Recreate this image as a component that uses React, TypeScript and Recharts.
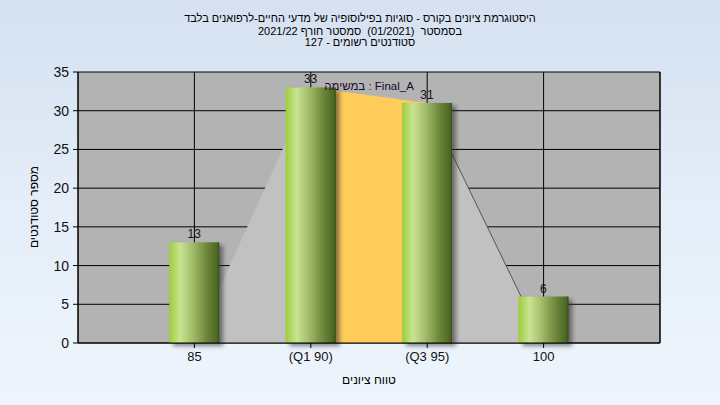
import React from "react";
import {
  ComposedChart,
  Bar,
  Area,
  XAxis,
  YAxis,
  CartesianGrid,
  LabelList,
  ReferenceDot,
} from "recharts";

// ---- data ----
const categories = ["85", "(Q1 90)", "(Q3 95)", "100"];
const positions = [1, 2, 3, 4];
const counts = [13, 33, 31, 6];
const envelope = [0, 33, 31, 0];
const quartileBand: (number | null)[] = [null, 33, 31, null];
const tailLine: (number | null)[] = [null, null, 31, 0];
const yTicks = [0, 5, 10, 15, 20, 25, 30, 35];
const xTicks = [1, 2, 3, 4];

const titleLines = [
  "היסטוגרמת ציונים בקורס - סוגיות בפילוסופיה של מדעי החיים-לרפואנים בלבד",
  "בסמסטר  (01/2021)  סמסטר חורף 2021/22",
  "סטודנטים רשומים - 127",
];
const xTitle = "טווח ציונים";
const yTitle = "מספר סטודנטים";
const annotationText = "במשימה : Final_A";
const annotationX = 2.5;
const annotationY = 33;

const data = categories.map((c, i) => ({
  x: positions[i],
  label: c,
  count: counts[i],
  env: envelope[i],
  band: quartileBand[i],
  tail: tailLine[i],
}));

const FONT = '"Liberation Sans", Arial, sans-serif';

const BarShape = (props: any) => {
  const { x, y, width, height, index } = props;
  if (width == null || height == null) return null;
  const gid = `barGrad${index}`;
  const fid = `barShadow${index}`;
  return (
    <g>
      <defs>
        <linearGradient id={gid} x1="0" y1="0" x2="1" y2="0">
          <stop offset="0%" stopColor="#9dcd3b" />
          <stop offset="22%" stopColor="#c8e492" />
          <stop offset="45%" stopColor="#a6bf6c" />
          <stop offset="75%" stopColor="#6c873a" />
          <stop offset="100%" stopColor="#45601c" />
        </linearGradient>
        <filter id={fid} x="-30%" y="-30%" width="160%" height="160%">
          <feGaussianBlur stdDeviation="2" />
        </filter>
      </defs>
      <rect
        x={x + 4}
        y={y + 3}
        width={width}
        height={height}
        fill="#2a2a2a"
        opacity={0.55}
        filter={`url(#${fid})`}
      />
      <rect x={x} y={y} width={width} height={height} fill={`url(#${gid})`} />
      <line
        x1={x + width - 0.5}
        y1={y}
        x2={x + width - 0.5}
        y2={y + height}
        stroke="#3a4f16"
        strokeWidth={1}
      />
    </g>
  );
};

export default function App() {
  return (
    <div
      style={{
        position: "absolute",
        left: 0,
        top: 0,
        width: 720,
        height: 405,
        background: "linear-gradient(to bottom, #d5e1f1 0%, #e4edf8 50%, #eef5fc 100%)",
        fontFamily: FONT,
        overflow: "hidden",
      }}
    >
      <ComposedChart
        width={720}
        height={405}
        data={data}
        margin={{ top: 72, right: 0, left: 0, bottom: 32 }}
        style={{ position: "absolute", left: 0, top: 0 }}
      >
        <CartesianGrid
          stroke="#000"
          strokeWidth={1}
          fill="#b3b3b3"
          fillOpacity={1}
        />
        <XAxis
          dataKey="x"
          type="number"
          domain={[0, 5]}
          ticks={xTicks}
          tickFormatter={(v: number) => categories[v - 1]}
          height={30}
          tickSize={5}
          tickMargin={4}
          axisLine={{ stroke: "#000" }}
          tickLine={{ stroke: "#000" }}
          tick={{ fill: "#111", fontSize: 13, fontFamily: FONT }}
          allowDataOverflow
        />
        <YAxis
          yAxisId={0}
          orientation="left"
          width={78}
          domain={[0, 35]}
          ticks={yTicks}
          tickSize={5}
          tickMargin={4}
          axisLine={{ stroke: "#000" }}
          tickLine={{ stroke: "#000" }}
          tick={{ fill: "#111", fontSize: 14, fontFamily: FONT }}
          interval={0}
        />
        <YAxis
          yAxisId="r"
          orientation="right"
          width={60}
          domain={[0, 35]}
          ticks={yTicks}
          tickSize={5}
          tickMargin={4}
          axisLine={{ stroke: "#000" }}
          tickLine={{ stroke: "#000" }}
          tick={{ fill: "#111", fontSize: 14, fontFamily: FONT }}
          interval={0}
        />
        <Area
          dataKey="env"
          type="linear"
          stroke="none"
          fill="#c1c1c1"
          fillOpacity={1}
          isAnimationActive={false}
          dot={false}
          activeDot={false}
        />
        <Area
          dataKey="band"
          type="linear"
          stroke="none"
          fill="#ffcc5a"
          fillOpacity={1}
          isAnimationActive={false}
          dot={false}
          activeDot={false}
        />
        <Area
          dataKey="tail"
          type="linear"
          stroke="#555"
          strokeWidth={1}
          fill="none"
          fillOpacity={0}
          isAnimationActive={false}
          dot={false}
          activeDot={false}
        />
        <Bar
          dataKey="count"
          barSize={50}
          shape={BarShape}
          isAnimationActive={false}
        >
          <LabelList
            dataKey="count"
            position="top"
            offset={4}
            fill="#111"
            fontSize={12}
            fontFamily={FONT}
          />
        </Bar>
        <ReferenceDot
          x={annotationX}
          y={annotationY}
          r={0}
          fill="none"
          stroke="none"
          ifOverflow="visible"
          label={{
            value: annotationText,
            position: "center",
            dy: -2,
            fill: "#1a0a2a",
            fontSize: 11.5,
            fontFamily: FONT,
          }}
        />
      </ComposedChart>
      <svg
        width={720}
        height={405}
        style={{ position: "absolute", left: 0, top: 0, pointerEvents: "none" }}
      >
        {titleLines.map((t, i) => (
          <text
            key={i}
            x={360}
            y={[22, 34.5, 45.5][i]}
            textAnchor="middle"
            fontSize={11}
            fontFamily={FONT}
            fill="#000"
            style={{ whiteSpace: "pre", direction: "rtl", unicodeBidi: "embed" }}
          >
            {t}
          </text>
        ))}
        <text
          x={369}
          y={384}
          textAnchor="middle"
          fontSize={12}
          fontFamily={FONT}
          fill="#000"
          style={{ direction: "rtl", unicodeBidi: "embed" }}
        >
          {xTitle}
        </text>
        <text
          x={0}
          y={0}
          transform="translate(38 207) rotate(-90)"
          textAnchor="middle"
          fontSize={12}
          fontFamily={FONT}
          fill="#000"
          style={{ direction: "rtl", unicodeBidi: "embed" }}
        >
          {yTitle}
        </text>
      </svg>
    </div>
  );
}
